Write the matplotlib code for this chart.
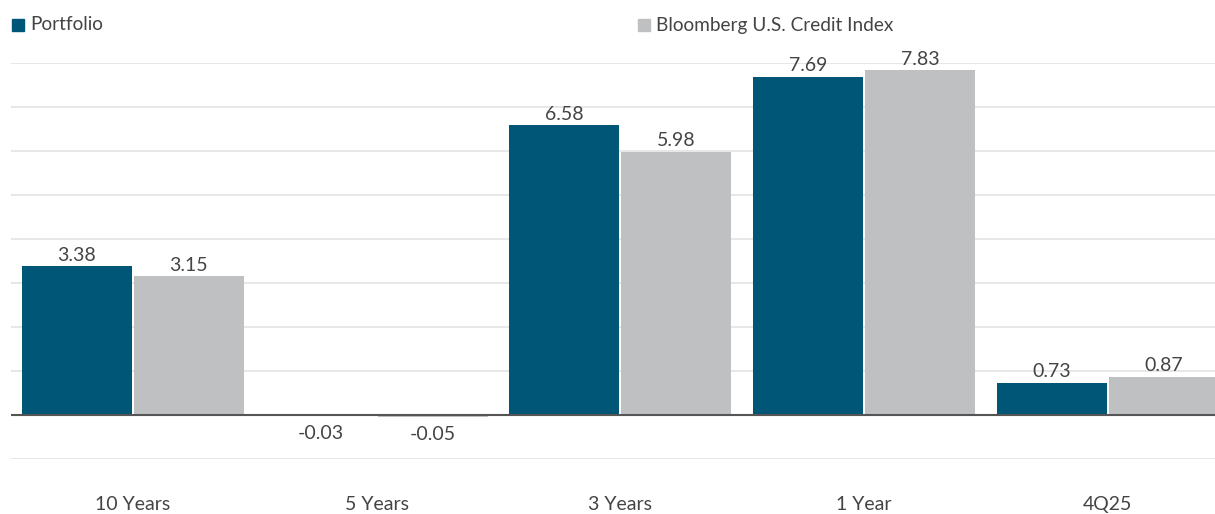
import matplotlib
matplotlib.use("Agg")
import matplotlib.pyplot as plt
from matplotlib.patches import Rectangle
import numpy as np

plt.rcParams["font.family"] = ["Lato", "DejaVu Sans"]

categories = ["10 Years", "5 Years", "3 Years", "1 Year", "4Q25"]
portfolio = [3.38, -0.03, 6.58, 7.69, 0.73]
index_vals = [3.15, -0.05, 5.98, 7.83, 0.87]
series_names = ["Portfolio", "Bloomberg U.S. Credit Index"]

C_PORT = "#005677"
C_IDX = "#bfc0c2"
TXT = "#444444"

W, H = 1215, 514
fig = plt.figure(figsize=(W / 100, H / 100), dpi=100)
ax = fig.add_axes([11 / W, (H - 459) / H, (W - 11) / W, (459 - 63) / H])

x = np.arange(len(categories))
bw = 0.451
off = 0.23
b1 = ax.bar(x - off, portfolio, bw, color=C_PORT, zorder=3)
b2 = ax.bar(x + off, index_vals, bw, color=C_IDX, zorder=3)

for bars, vals in ((b1, portfolio), (b2, index_vals)):
    for b, v in zip(bars, vals):
        cx = b.get_x() + b.get_width() / 2
        if v >= 0:
            ax.annotate(f"{v:.2f}", (cx, v), xytext=(0, 2), textcoords="offset points",
                        ha="center", va="bottom", fontsize=14, color=TXT)
        else:
            ax.annotate(f"{v:.2f}", (cx, v), xytext=(0, -6), textcoords="offset points",
                        ha="center", va="top", fontsize=14, color=TXT)

ax.set_xlim(-0.5, 4.44)
ax.set_ylim(-1, 8)
ax.set_yticks(np.arange(-1, 9, 1))
ax.yaxis.grid(True, color="#e3e3e3", lw=1.2, zorder=0)
ax.axhline(0, color="#555555", lw=1.5, zorder=4)
ax.tick_params(axis="y", left=False, labelleft=False)
ax.tick_params(axis="x", bottom=False, pad=23, labelsize=14, labelcolor=TXT)
ax.set_xticks(x)
ax.set_xticklabels(categories)
for s in ax.spines.values():
    s.set_visible(False)

# legend
for (px, name, col) in ((12, series_names[0], C_PORT), (638, series_names[1], C_IDX)):
    fig.add_artist(Rectangle((px / W, (H - 31) / H), 12 / W, 12 / H,
                             transform=fig.transFigure, color=col))
    fig.text((px + 18) / W, (H - 25) / H, name, fontsize=13.7, color=TXT, va="center")

fig.savefig("out.png", dpi=100)
